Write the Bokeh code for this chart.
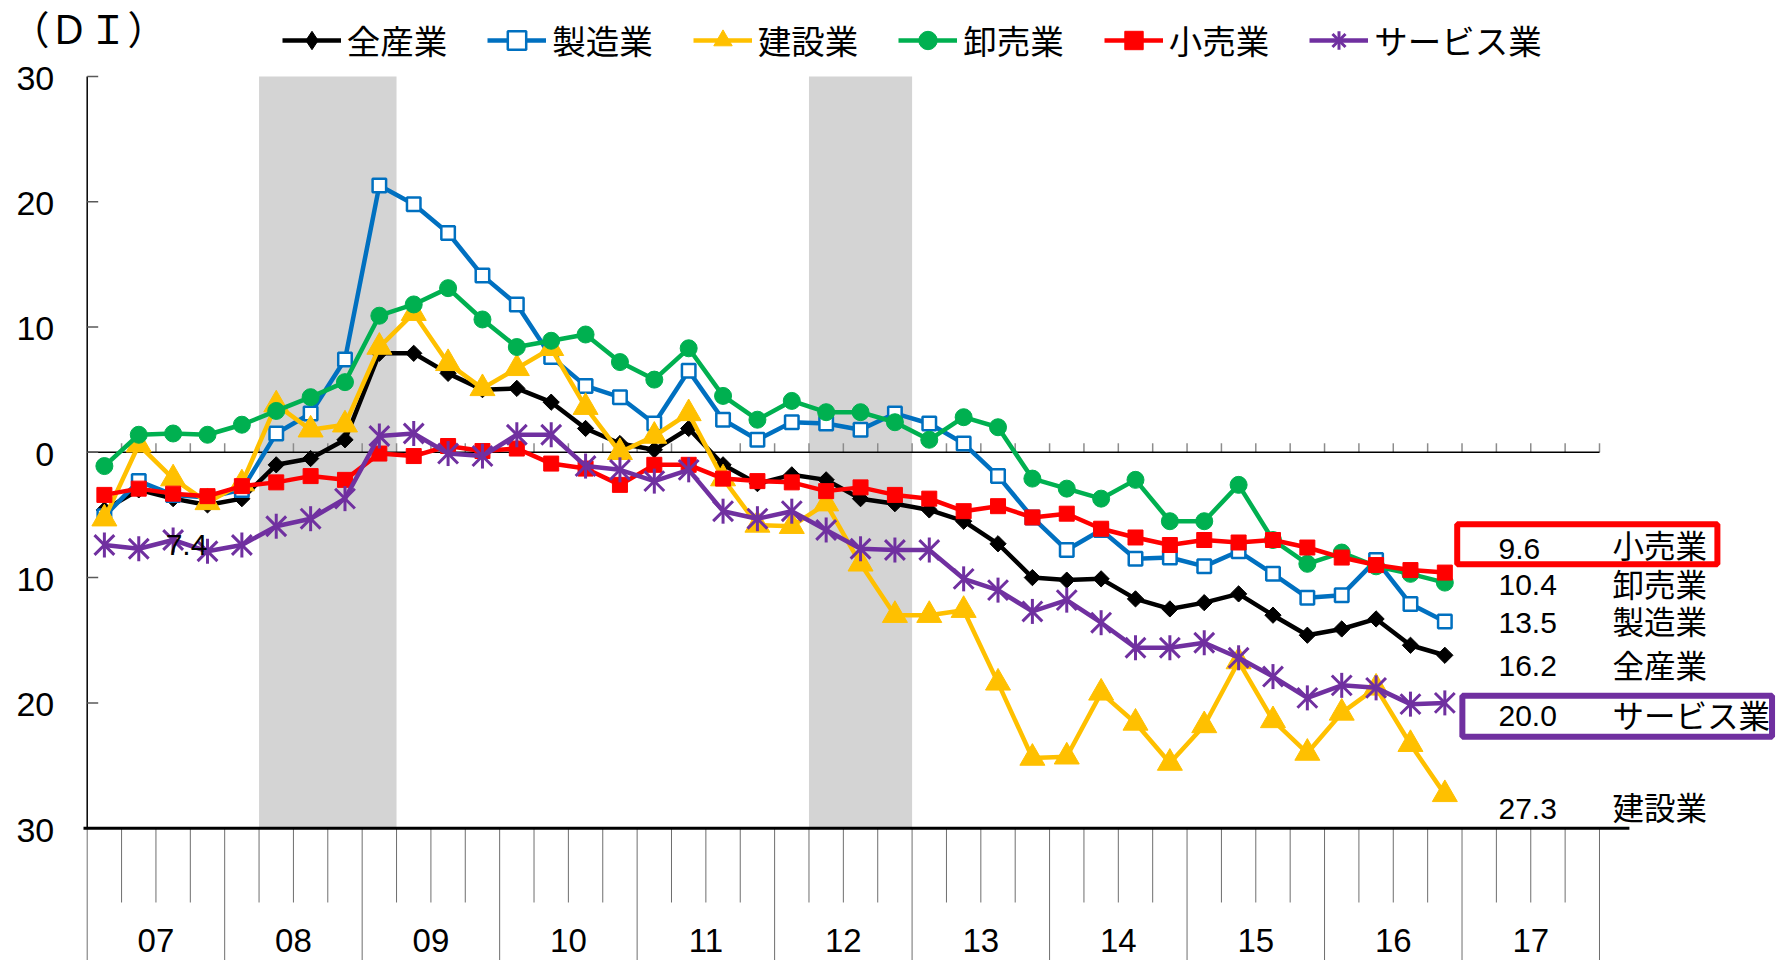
import math
from bokeh.plotting import figure
from bokeh.models import Range1d, Legend, LegendItem, BoxAnnotation
from bokeh.core.properties import value
from bokeh.embed import file_html
from bokeh.resources import INLINE

# ---------------- data ----------------
year_labels = ["07", "08", "09", "10", "11", "12", "13", "14", "15", "16", "17"]
quarters_per_year = 4

all_industries = [-4.6, -3.0, -3.7, -4.2, -3.7, -1.0, -0.5, 1.0, 7.9, 7.9,
                  6.3, 5.0, 5.1, 4.0, 1.9, 0.7, 0.2, 1.9, -1.0, -2.5,
                  -1.8, -2.2, -3.7, -4.1, -4.6, -5.5, -7.3, -10.0, -10.2, -10.1,
                  -11.7, -12.5, -12.0, -11.3, -13.0, -14.6, -14.1, -13.3, -15.4, -16.2]
manufacturing = [-5.1, -2.3, -3.4, -3.6, -3.0, 1.5, 3.1, 7.4, 21.3, 19.8,
                 17.5, 14.1, 11.8, 7.6, 5.3, 4.4, 2.3, 6.5, 2.6, 1.0,
                 2.4, 2.3, 1.8, 3.1, 2.3, 0.7, -1.9, -5.2, -7.8, -6.2,
                 -8.5, -8.4, -9.1, -7.9, -9.7, -11.6, -11.4, -8.6, -12.1, -13.5]
construction = [-5.3, 0.6, -2.1, -4.0, -2.5, 3.8, 1.8, 2.2, 8.4, 11.1,
                7.1, 5.1, 6.7, 8.3, 3.6, 0.0, 1.3, 3.1, -2.1, -5.8,
                -5.9, -4.1, -8.9, -13.0, -13.0, -12.6, -18.4, -24.4, -24.3, -19.2,
                -21.6, -24.8, -21.8, -16.7, -21.4, -24.0, -20.8, -18.8, -23.3, -27.3]
wholesale = [-1.1, 1.4, 1.5, 1.4, 2.2, 3.3, 4.4, 5.6, 10.9, 11.8,
             13.1, 10.6, 8.4, 8.9, 9.4, 7.2, 5.8, 8.3, 4.5, 2.6,
             4.1, 3.2, 3.2, 2.4, 1.0, 2.8, 2.0, -2.1, -2.9, -3.7,
             -2.2, -5.5, -5.5, -2.6, -7.0, -8.9, -8.0, -9.1, -9.7, -10.4]
retail = [-3.4, -2.9, -3.3, -3.5, -2.7, -2.4, -1.9, -2.2, -0.1, -0.3,
          0.5, 0.1, 0.3, -0.9, -1.3, -2.6, -1.0, -1.0, -2.1, -2.3,
          -2.4, -3.1, -2.8, -3.4, -3.7, -4.7, -4.3, -5.2, -4.9, -6.1,
          -6.8, -7.4, -7.0, -7.2, -7.0, -7.6, -8.4, -9.0, -9.4, -9.6]
services = [-7.4, -7.7, -7.0, -7.9, -7.4, -5.9, -5.3, -3.7, 1.3, 1.5,
            -0.1, -0.3, 1.4, 1.4, -1.1, -1.4, -2.3, -1.4, -4.7, -5.3,
            -4.7, -6.2, -7.7, -7.8, -7.8, -10.1, -11.0, -12.7, -11.8, -13.6,
            -15.6, -15.6, -15.2, -16.4, -17.9, -19.6, -18.6, -18.8, -20.1, -20.0]

series_names = ["全産業", "製造業", "建設業", "卸売業", "小売業", "サービス業"]
recession_start = [5, 21]   # quarter index: 08Q2, 12Q2
recession_end = [9, 24]     # exclusive: 09Q2, 13Q1
y_ticks = [-30, -20, -10, 0, 10, 20, 30]
y_tick_labels = ["30", "20", "10", "0", "10", "20", "30"]
unit_label = "（ＤＩ）"
stray_label = "7.4"

# ---------------- styles / layout ----------------
colors = ["#000000", "#0070C0", "#FFC000", "#00B050", "#FF0000", "#7030A0"]
W, H = 1778, 960
FONT_NUM = "Liberation Sans"
FONT_JP = "Noto Sans CJK JP"

p = figure(width=W, height=H, output_backend="svg", toolbar_location=None,
           x_range=Range1d(-2.5226, 49.208), y_range=Range1d(-40.559, 36.057),
           x_axis_type=None, y_axis_type=None, min_border=0,
           outline_line_color=None, background_fill_color="white",
           border_fill_color="white")

ymin, ymax = min(y_ticks), max(y_ticks)
n_years = len(year_labels)
n_q_total = n_years * quarters_per_year
xs = [i + 0.5 for i in range(len(all_industries))]
nan = float("nan")

# recession bands
p.quad(left=recession_start, right=recession_end, bottom=ymin, top=ymax,
       fill_color="#d4d4d4", line_color=None)

# zero line with quarter ticks (upwards)
qb = list(range(1, n_q_total + 1))
p.segment(x0=qb, x1=qb, y0=[0] * len(qb), y1=[0.72] * len(qb),
          line_color="#8c8c8c", line_width=1.5)
p.segment(x0=[0], y0=[0], x1=[n_q_total], y1=[0], line_color="black", line_width=1.5)

# y axis line + ticks + labels
p.segment(x0=[0], y0=[ymin], x1=[0], y1=[ymax], line_color="black", line_width=1.5)
p.segment(x0=[0] * len(y_ticks), x1=[0.32] * len(y_ticks), y0=y_ticks, y1=y_ticks,
          line_color="#595959", line_width=1.5)
p.text(x=[0] * len(y_ticks), y=y_ticks, text=y_tick_labels, x_offset=-33, y_offset=2,
       text_align="right", text_baseline="middle",
       text_font=value(FONT_NUM), text_font_size="34px", text_color="black")

# bottom category axis
minor_q = [q for q in range(1, n_q_total) if q % quarters_per_year != 0]
major_q = [q for q in range(0, n_q_total + 1, quarters_per_year)]
p.segment(x0=minor_q, x1=minor_q, y0=[ymin] * len(minor_q), y1=[-35.93] * len(minor_q),
          line_color="#6e6e6e", line_width=1)
p.segment(x0=major_q, x1=major_q, y0=[ymin] * len(major_q), y1=[-40.6] * len(major_q),
          line_color="#6e6e6e", line_width=1)
p.segment(x0=[-0.108], y0=[ymin], x1=[44.87], y1=[ymin], line_color="black", line_width=3)
p.text(x=[k * quarters_per_year + quarters_per_year / 2 for k in range(n_years)],
       y=[-38.96] * n_years, text=year_labels, text_align="center", text_baseline="middle",
       text_font=value(FONT_NUM), text_font_size="33px", text_color="black")

# series
all_series = [all_industries, manufacturing, construction, wholesale, retail, services]
legend_items = []
for name, col, ys in zip(series_names, colors, all_series):
    lr = p.line(xs, ys, line_color=col, line_width=4.5, line_join="round")
    rs = [lr]
    if name == "全産業":
        p.scatter(xs, ys, marker="square", angle=math.pi / 4, size=11.5,
                  fill_color=col, line_color=col)
        # legend swatch (no data points drawn)
        rs.append(p.scatter([nan], [nan], marker="diamond", size=16,
                            fill_color=col, line_color=col))
    elif name == "製造業":
        rs.append(p.scatter(xs, ys, marker="square", size=13.5, fill_color="white",
                            line_color=col, line_width=2.5))
    elif name == "建設業":
        rs.append(p.scatter(xs, ys, marker="triangle", size=25, fill_color=col,
                            line_color=col))
    elif name == "卸売業":
        rs.append(p.scatter(xs, ys, marker="circle", size=17, fill_color=col,
                            line_color=col))
    elif name == "小売業":
        rs.append(p.scatter(xs, ys, marker="square", size=15, fill_color=col,
                            line_color=col))
    else:
        rs.append(p.scatter(xs, ys, marker="x", size=28, line_color=col, line_width=3))
        p.scatter(xs, ys, marker="dash", angle=math.pi / 2, size=25,
                  line_color=col, line_width=3)
        # legend swatch for the vertical arm (horizontal arm hides in the line)
        rs.append(p.scatter([nan], [nan], marker="cross", size=16,
                            line_color=col, line_width=3))
    legend_items.append(LegendItem(label=name, renderers=rs))

legend = Legend(items=legend_items, orientation="horizontal", location=(281.7, 896),
                glyph_width=59, glyph_height=46, label_height=46, label_standoff=6,
                spacing=40, padding=0, margin=0, border_line_color=None,
                background_fill_alpha=0, label_text_font=FONT_JP,
                label_text_font_size="33.5px", label_text_color="black")
p.add_layout(legend, "center")

# right-side annotations (sorted by latest value, as in the chart)
order = sorted(range(len(all_series)), key=lambda k: -all_series[k][-1])
num_y = [-7.68, -10.63, -13.66, -17.02, -21.01, -28.44]
name_y = [-7.28, -10.47, -13.42, -16.86, -20.85, -28.20]
p.text(x=[41.06] * len(order), y=num_y,
       text=[f"{abs(all_series[k][-1]):.1f}" for k in order],
       text_align="left", text_baseline="middle",
       text_font=value(FONT_NUM), text_font_size="30px", text_color="black")
p.text(x=[44.38] * len(order), y=name_y, text=[series_names[k] for k in order],
       text_align="left", text_baseline="middle",
       text_font=value(FONT_JP), text_font_size="31.5px", text_color="black")

p.add_layout(BoxAnnotation(left=39.86, right=47.43, top=-5.74, bottom=-8.93,
                           fill_alpha=0, fill_color=None, line_color="#FF0000",
                           line_alpha=1.0, line_width=6))
p.add_layout(BoxAnnotation(left=40.01, right=49.02, top=-19.43, bottom=-22.71,
                           fill_alpha=0, fill_color=None, line_color="#7030A0",
                           line_alpha=1.0, line_width=6))

# unit label and stray data label
p.text(x=[-2.23], y=[33.98], text=[unit_label], text_align="left", text_baseline="middle",
       text_font=value(FONT_JP), text_font_size="39px", text_color="black")
p.text(x=[2.89], y=[services[0]], text=[stray_label], text_align="center",
       text_baseline="middle", text_font=value(FONT_NUM), text_font_size="30px",
       text_color="black")

open("out.html", "w").write(file_html(p, INLINE))
